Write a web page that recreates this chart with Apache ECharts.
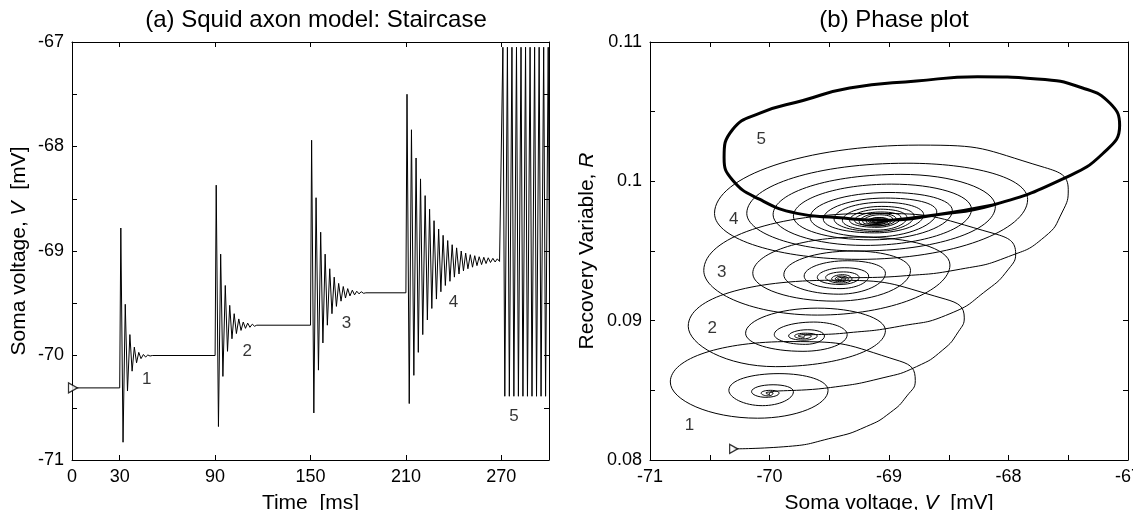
<!DOCTYPE html>
<html>
<head>
<meta charset="utf-8">
<script src="https://cdn.jsdelivr.net/npm/echarts@6/dist/echarts.min.js"></script>
<style>
  html, body { margin: 0; padding: 0; background: #fff; }
  #chart { width: 1133px; height: 510px; }
</style>
</head>
<body>
<div id="chart"></div>
<script>
// ---------- panel (a): time series, [t ms, V mV] ----------
const timeTicks = [0, 30, 90, 150, 210, 270];
const voltTicks = [-71, -70, -69, -68, -67];

const rest0 = [[0, -70.31], [30, -70.31]];
const burst1 = [[30.7,-68.78],[32.1,-70.83],[33.5,-69.51],[34.9,-70.34],[36.4,-69.80],[37.8,-70.15],[39.2,-69.92],[40.6,-70.07],[42.0,-69.97],[43.4,-70.03],[44.9,-69.99],[46.3,-70.015],[47.7,-69.995],[49.1,-70.005]];
const level1 = [[50.5, -70.0], [90, -70.0]];
const burst2 = [[90.7,-68.37],[92.1,-70.68],[93.5,-69.03],[94.9,-70.20],[96.4,-69.33],[97.8,-69.96],[99.2,-69.52],[100.6,-69.84],[102.0,-69.60],[103.4,-69.79],[104.9,-69.65],[106.3,-69.76],[107.7,-69.68],[109.1,-69.74],[110.5,-69.69],[111.9,-69.73],[113.4,-69.70],[114.8,-69.72]];
const level2 = [[116.2, -69.71], [150, -69.71]];
const burst3 = [[150.7,-67.94],[152.1,-70.55],[153.5,-68.49],[155.0,-70.14],[156.4,-68.82],[157.8,-69.88],[159.2,-69.03],[160.6,-69.71],[162.1,-69.17],[163.5,-69.60],[164.9,-69.25],[166.3,-69.53],[167.7,-69.31],[169.2,-69.48],[170.6,-69.34],[172.0,-69.45],[173.4,-69.36],[174.8,-69.43],[176.3,-69.375],[177.7,-69.42],[179.1,-69.385],[180.5,-69.41],[181.9,-69.39],[183.4,-69.405]];
const level3 = [[184.8, -69.40], [210, -69.40]];
const burst4 = [[210.7,-67.50],[212.1,-70.46],[213.5,-67.84],[215.0,-70.19],[216.4,-68.11],[217.8,-69.97],[219.2,-68.31],[220.6,-69.80],[222.1,-68.47],[223.5,-69.66],[224.9,-68.60],[226.3,-69.55],[227.7,-68.71],[229.2,-69.46],[230.6,-68.79],[232.0,-69.39],[233.4,-68.85],[234.8,-69.33],[236.3,-68.90],[237.7,-69.29],[239.1,-68.94],[240.5,-69.25],[241.9,-68.97],[243.4,-69.22],[244.8,-69.00],[246.2,-69.19],[247.6,-69.02],[249.0,-69.17],[250.5,-69.035],[251.9,-69.155],[253.3,-69.045],[254.7,-69.14],[256.1,-69.055],[257.6,-69.13],[259.0,-69.06],[260.4,-69.12],[261.8,-69.065],[263.2,-69.11],[264.7,-69.07],[266.1,-69.105],[267.5,-69.075],[268.9,-69.10]];
const level4 = [[270, -69.09]];
const burst5 = [[271.0,-67.05],[272.2,-70.39],[273.85,-67.05],[275.05,-70.39],[276.7,-67.05],[277.9,-70.39],[279.55,-67.05],[280.75,-70.39],[282.4,-67.05],[283.6,-70.39],[285.25,-67.05],[286.45,-70.39],[288.1,-67.05],[289.3,-70.39],[290.95,-67.05],[292.15,-70.39],[293.8,-67.05],[295.0,-70.39],[296.65,-67.05],[297.85,-70.39],[299.5,-67.05],[300.7,-70.39]];

const timeLabels = [['1', 47.0, -70.23], ['2', 110.2, -69.96], ['3', 172.6, -69.69], ['4', 240.0, -69.49], ['5', 277.9, -70.58]];
const timeStart = [0, -70.31];

// ---------- panel (b): phase plot, [V mV, R] ----------
const phaseVTicks = [-71, -70, -69, -68, -67];
const phaseRTicks = [0.08, 0.09, 0.1, 0.11];

// each loop: right, top, left, bottom (first loop also has an upper-right point)
const phaseStart = [[-70.30,0.0808],[-69.88,0.08095],[-69.47,0.0816],[-69.19,0.0824],[-68.99,0.0834],[-68.85,0.0846]];
const spiral1 = [[-68.78,0.0857],[-68.91,0.0871],[-69.83,0.0885],[-70.83,0.0856],[-70.10,0.0830],
  [-69.51,0.0850],[-69.92,0.0862],[-70.34,0.0850],[-70.06,0.0839],
  [-69.80,0.0849],[-69.97,0.0854],[-70.15,0.0849],[-70.03,0.0845],
  [-69.92,0.0848],[-69.99,0.0850],[-70.07,0.0848],[-70.01,0.0846],
  [-69.97,0.0848],[-70.00,0.08488],[-70.03,0.0848],[-70.00,0.0847],
  [-70.00,0.0848]];
const link12 = [[-69.49,0.0852],[-69.05,0.0859],[-68.77,0.0867],[-68.55,0.0879],[-68.42,0.0892]];
const spiral2 = [[-68.37,0.0902],[-68.53,0.09155],[-69.48,0.0929],[-70.68,0.0896],[-69.95,0.0867],
  [-69.03,0.0893],[-69.60,0.0909],[-70.20,0.0891],[-69.72,0.0878],
  [-69.35,0.0890],[-69.63,0.0899],[-69.96,0.0890],[-69.70,0.0883],
  [-69.54,0.0889],[-69.68,0.08935],[-69.84,0.0889],[-69.71,0.0886],
  [-69.60,0.0889],[-69.70,0.0891],[-69.79,0.0889],[-69.71,0.0887],
  [-69.65,0.0889],[-69.71,0.0890],[-69.76,0.0889],[-69.71,0.0888],
  [-69.71,0.0889]];
const link23 = [[-69.38,0.0891],[-68.91,0.0896],[-68.49,0.0905],[-68.18,0.0922],[-68.00,0.0937]];
const spiral3 = [[-67.94,0.0948],[-68.12,0.09625],[-69.15,0.0977],[-70.55,0.0936],[-69.60,0.0904],
  [-68.49,0.0940],[-69.25,0.0960],[-70.14,0.0934],[-69.45,0.0914],
  [-68.82,0.0936],[-69.30,0.0950],[-69.88,0.0933],[-69.42,0.0919],
  [-69.03,0.0934],[-69.35,0.0943],[-69.71,0.0932],[-69.41,0.0923],
  [-69.17,0.0932],[-69.37,0.0938],[-69.60,0.0931],[-69.41,0.0926],
  [-69.25,0.0931],[-69.38,0.0935],[-69.53,0.0931],[-69.40,0.0927],
  [-69.31,0.0930],[-69.39,0.0933],[-69.48,0.0930],[-69.40,0.0928],
  [-69.34,0.0930],[-69.40,0.0932],[-69.45,0.0930],[-69.40,0.0929],
  [-69.36,0.0930],[-69.40,0.0931],[-69.43,0.0930],[-69.40,0.0929],
  [-69.40,0.0930]];
const link34 = [[-68.90,0.0932],[-68.40,0.0937],[-68.00,0.0946],[-67.70,0.0960],[-67.55,0.0978]];
const spiral4 = [[-67.50,0.0994],[-67.70,0.1010],[-68.75,0.1026],[-70.46,0.0977],[-69.25,0.0944],
  [-67.84,0.0987],[-68.85,0.1013],[-70.19,0.0977],[-69.25,0.0950],
  [-68.11,0.0982],[-68.90,0.1005],[-69.97,0.0976],[-69.20,0.0954],
  [-68.31,0.0980],[-68.98,0.0998],[-69.80,0.0975],[-69.15,0.0958],
  [-68.47,0.0979],[-69.00,0.0992],[-69.66,0.0974],[-69.13,0.0960],
  [-68.60,0.0978],[-69.03,0.0988],[-69.55,0.0973],[-69.12,0.0963],
  [-68.71,0.0976],[-69.05,0.0985],[-69.46,0.0973],[-69.11,0.0964],
  [-68.79,0.0975],[-69.06,0.0982],[-69.39,0.0972],[-69.10,0.0965],
  [-68.85,0.0974],[-69.07,0.0980],[-69.33,0.0972],[-69.10,0.0967],
  [-68.90,0.0974],[-69.07,0.0978],[-69.29,0.0972],[-69.10,0.0968],
  [-68.94,0.0973],[-69.08,0.0977],[-69.25,0.0971],[-69.10,0.0968],
  [-68.97,0.0973],[-69.08,0.0976],[-69.22,0.0971],[-69.10,0.0969],
  [-69.00,0.0972],[-69.08,0.0974],[-69.19,0.0971],[-69.10,0.0969],
  [-69.02,0.0972],[-69.09,0.0974],[-69.17,0.0971],[-69.10,0.0970],
  [-69.035,0.0972],[-69.09,0.0973],[-69.155,0.0971],[-69.10,0.0970],
  [-69.045,0.0971],[-69.09,0.0973],[-69.14,0.0971],[-69.10,0.0970],
  [-69.055,0.0971],[-69.09,0.0972],[-69.13,0.0971],[-69.10,0.0970],
  [-69.10,0.0971]];
const limitCycle = [[-69.10,0.0971],[-68.60,0.0976],[-68.13,0.0983],[-67.54,0.1002],[-67.21,0.1020],[-67.07,0.1040],[-67.15,0.1056],[-67.38,0.1067],[-67.76,0.10735],[-68.26,0.1075],[-68.77,0.1072],[-69.33,0.1067],[-69.72,0.1058],[-70.08,0.1049],[-70.31,0.1037],[-70.38,0.1017],[-70.31,0.1001],[-70.08,0.0987],[-69.77,0.0977],[-69.44,0.0974],[-69.02,0.0972],[-68.60,0.0976],[-68.13,0.0983]];

const phaseLabels = [['1', -70.67, 0.0825], ['2', -70.48, 0.08945], ['3', -70.40, 0.09345], ['4', -70.30, 0.0973], ['5', -70.07, 0.1030]];
const phaseStartPt = [-70.30, 0.0808];

// ---------- build ----------
const FONT = '"Liberation Sans", Arial, Helvetica, sans-serif';
const trace = [].concat(rest0, burst1, level1, burst2, level2, burst3, level3, burst4, level4, burst5);
const phaseTrace = [].concat(phaseStart, spiral1, link12, spiral2, link23, spiral3, link34, spiral4);

function frameAxis(gridIndex, position, min, max, interval, ticks, showLabel, extra) {
  return Object.assign({
    type: 'value',
    gridIndex: gridIndex,
    position: position,
    min: min,
    max: max,
    interval: interval,
    axisLine: { show: true, onZero: false, lineStyle: { color: '#000', width: 1 } },
    axisTick: { show: true, inside: true, length: 5, customValues: ticks, lineStyle: { color: '#000', width: 1 } },
    axisLabel: {
      show: showLabel,
      customValues: ticks,
      color: '#000',
      fontSize: 18,
      fontFamily: FONT,
      margin: 8
    },
    splitLine: { show: false }
  }, extra || {});
}

const minor = { show: true, splitNumber: 2, length: 5, lineStyle: { color: '#000', width: 1 } };
const nameStyle = {
  color: '#000', fontSize: 21, fontFamily: FONT,
  rich: { i: { fontStyle: 'italic', fontSize: 21, fontFamily: FONT, color: '#000' } }
};

const chart = echarts.init(document.getElementById('chart'), null, { renderer: 'canvas' });

chart.setOption({
  animation: false,
  backgroundColor: '#fff',
  title: [
    { text: '(a) Squid axon model: Staircase', left: 311, top: 3, textAlign: 'center',
      textStyle: { fontSize: 24, fontWeight: 'normal', fontFamily: FONT, color: '#000' } },
    { text: '(b) Phase plot', left: 889, top: 3, textAlign: 'center',
      textStyle: { fontSize: 24, fontWeight: 'normal', fontFamily: FONT, color: '#000' } }
  ],
  grid: [
    { left: 72, top: 42, width: 477, height: 418, outerBoundsMode: 'none' },
    { left: 650, top: 42, width: 478, height: 418, outerBoundsMode: 'none' }
  ],
  xAxis: [
    frameAxis(0, 'bottom', 0, 300, 30, timeTicks, true,
      { name: 'Time  [ms]', nameLocation: 'middle', nameGap: 33, nameTextStyle: nameStyle }),
    frameAxis(0, 'top', 0, 300, 30, timeTicks, false),
    frameAxis(1, 'bottom', -71, -67, 1, phaseVTicks, true,
      { minorTick: minor, name: 'Soma voltage, {i|V}  [mV]', nameLocation: 'middle', nameGap: 33, nameTextStyle: nameStyle }),
    frameAxis(1, 'top', -71, -67, 1, phaseVTicks, false, { minorTick: minor })
  ],
  yAxis: [
    frameAxis(0, 'left', -71, -67, 1, voltTicks, true,
      { minorTick: minor, name: 'Soma voltage, {i|V}  [mV]', nameLocation: 'middle', nameGap: 42, nameTextStyle: nameStyle }),
    frameAxis(0, 'right', -71, -67, 1, voltTicks, false, { minorTick: minor }),
    frameAxis(1, 'left', 0.08, 0.11, 0.01, phaseRTicks, true,
      { minorTick: minor, name: 'Recovery Variable, {i|R}', nameLocation: 'middle', nameGap: 52, nameTextStyle: nameStyle }),
    frameAxis(1, 'right', 0.08, 0.11, 0.01, phaseRTicks, false, { minorTick: minor })
  ],
  series: [
    {
      name: 'voltage', type: 'line', xAxisIndex: 0, yAxisIndex: 0,
      data: trace, showSymbol: false, symbol: 'none',
      lineStyle: { color: '#000', width: 1 }, z: 2
    },
    {
      name: 'time labels', type: 'scatter', xAxisIndex: 0, yAxisIndex: 0,
      data: timeLabels.map(d => ({ value: [d[1], d[2]], label: { formatter: d[0] } })),
      symbolSize: 1, itemStyle: { color: 'transparent' },
      label: { show: true, position: 'inside', color: '#000', fontSize: 17, fontFamily: FONT },
      z: 5
    },
    {
      name: 'start a', type: 'scatter', xAxisIndex: 0, yAxisIndex: 0,
      data: [timeStart], symbol: 'triangle', symbolRotate: -90, symbolSize: [10, 9], symbolOffset: [1, 0],
      itemStyle: { color: '#fff', borderColor: '#000', borderWidth: 1.3 }, clip: false, z: 6
    },
    {
      name: 'phase', type: 'line', xAxisIndex: 2, yAxisIndex: 2,
      data: phaseTrace, smooth: 0.55, showSymbol: false, symbol: 'none',
      lineStyle: { color: '#000', width: 1 }, z: 2
    },
    {
      name: 'limit cycle', type: 'line', xAxisIndex: 2, yAxisIndex: 2,
      data: limitCycle, smooth: 0.5, showSymbol: false, symbol: 'none',
      lineStyle: { color: '#000', width: 3 }, z: 3
    },
    {
      name: 'phase labels', type: 'scatter', xAxisIndex: 2, yAxisIndex: 2,
      data: phaseLabels.map(d => ({ value: [d[1], d[2]], label: { formatter: d[0] } })),
      symbolSize: 1, itemStyle: { color: 'transparent' },
      label: { show: true, position: 'inside', color: '#000', fontSize: 17, fontFamily: FONT },
      z: 5
    },
    {
      name: 'start b', type: 'scatter', xAxisIndex: 2, yAxisIndex: 2,
      data: [phaseStartPt], symbol: 'triangle', symbolRotate: -90, symbolSize: [9, 8],
      itemStyle: { color: '#fff', borderColor: '#000', borderWidth: 1.3 }, clip: false, z: 6
    }
  ]
});
</script>
</body>
</html>
